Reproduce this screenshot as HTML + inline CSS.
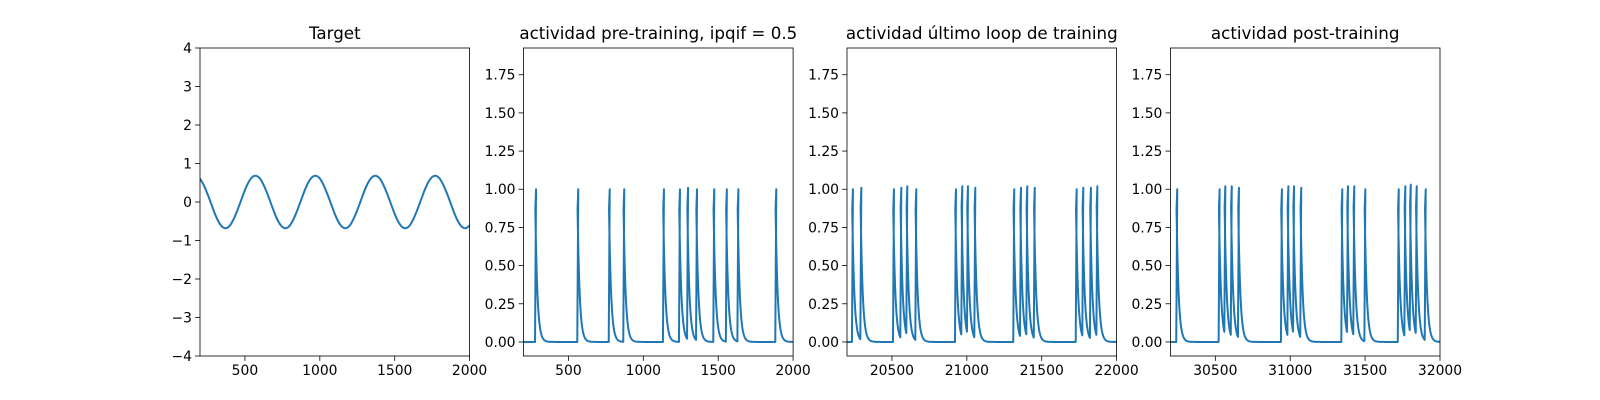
<!DOCTYPE html>
<html><head><meta charset="utf-8"><style>
html,body{margin:0;padding:0;background:#fff;}
svg{display:block;font-family:"DejaVu Sans","Liberation Sans",sans-serif;}
</style></head><body>
<svg id="fig" width="1600" height="400" viewBox="0 0 1600 400"></svg>
<script>
// ---- data ----
const targetX0 = 200, targetStep = 25;
const targetValues = [0.61,0.44,0.21,-0.05,-0.31,-0.52,-0.65,-0.68,-0.61,-0.44,-0.21,0.05,0.31,0.52,0.65,0.68,
0.61,0.44,0.21,-0.05,-0.31,-0.52,-0.65,-0.68,-0.61,-0.44,-0.21,0.05,0.31,0.52,0.65,0.68,
0.61,0.44,0.21,-0.05,-0.31,-0.52,-0.65,-0.68,-0.61,-0.44,-0.21,0.05,0.31,0.52,0.65,0.68,
0.61,0.44,0.21,-0.05,-0.31,-0.52,-0.65,-0.68,-0.61,-0.44,-0.21,0.05,0.31,0.52,0.65,0.68,
0.61,0.44,0.21,-0.05,-0.31,-0.52,-0.65,-0.68,-0.61];
const preSpikes = [277,559,769,866,1131,1238,1292,1352,1467,1551,1628,1881];
const prePeaks  = [1.0,1.0,1.0,1.0,1.0,1.0,1.01,1.0,1.0,1.0,1.0,1.0];
const lastSpikes = [20233,20289,20507,20556,20596,20656,20921,20963,21001,21050,21310,21355,21397,21447,21727,21771,21822,21865];
const lastPeaks  = [1.0,1.01,1.0,1.01,1.02,1.0,1.0,1.02,1.02,1.01,1.0,1.01,1.02,1.01,1.0,1.01,1.01,1.02];
const postSpikes = [30239,30522,30560,30603,30651,30938,30981,31019,31067,31341,31379,31421,31495,31718,31762,31798,31838,31898];
const postPeaks  = [1.0,1.0,1.02,1.02,1.01,1.0,1.02,1.02,1.01,1.0,1.02,1.02,1.0,1.0,1.02,1.03,1.02,1.0];
const targetYTicks = [-4,-3,-2,-1,0,1,2,3,4];
const spikeYTicks = ["0.00","0.25","0.50","0.75","1.00","1.25","1.50","1.75"];
const ticks1 = [500,1000,1500,2000];
const ticks3 = [20500,21000,21500,22000];
const ticks4 = [30500,31000,31500,32000];
const titles = ["Target","actividad pre-training, ipqif = 0.5","actividad último loop de training","actividad post-training"];

const NS="http://www.w3.org/2000/svg";
const svg=document.getElementById('fig');
function mk(tag,attrs,parent){const e=document.createElementNS(NS,tag);for(const k in attrs)e.setAttribute(k,attrs[k]);(parent||svg).appendChild(e);return e;}
const axTop=48, axBot=356, W=269.6, lefts=[200,523.5,847,1170.4];
const blue="#1f77b4";

function panel(i,xmin,xmax,ymin,ymax,xt,yt,ylabels,name){
  const L=lefts[i], R=L+W;
  const g=mk('g',{});
  
  
  const sx=v=>L+(v-xmin)/(xmax-xmin)*W;
  const sy=v=>axBot-(v-ymin)/(ymax-ymin)*(axBot-axTop);
  const cid='clip'+i;
  const cp=mk('clipPath',{id:cid},g); mk('rect',{x:L,y:axTop,width:W,height:axBot-axTop},cp);
  xt.forEach(v=>{const x=sx(v);
    const t=mk('line',{x1:x,x2:x,y1:axBot,y2:axBot+4.9,stroke:'#000','stroke-width':0.8},g);
    
    const tx=mk('text',{x:x,y:axBot+19,'font-size':13.9,'text-anchor':'middle',fill:'#000'},g);tx.textContent=v;
    });
  yt.forEach((v,k)=>{const y=sy(v);
    const t=mk('line',{x1:L-4.9,x2:L,y1:y,y2:y,stroke:'#000','stroke-width':0.8},g);
    
    const tx=mk('text',{x:L-8,y:y+5,'font-size':13.9,'text-anchor':'end',fill:'#000'},g);tx.textContent=ylabels[k];
    });
  const tt=mk('text',{x:L+W/2,y:axTop-9,'font-size':16.7,'text-anchor':'middle',fill:'#000'},g);tt.textContent=titles[i];
  
  return {g,sx,sy,cid,L,R};
}
function frame(p,name){
  const r=mk('rect',{x:p.L,y:axTop,width:W,height:axBot-axTop,fill:'none',stroke:'#000','stroke-width':0.8},p.g);
  
}

// Panel 1: target
{
  const p=panel(0,200,2000,-4,4,ticks1,targetYTicks,targetYTicks.map(v=>v<0?'\u2212'+(-v):''+v),'target');
  const pts=targetValues.map((v,k)=>[p.sx(targetX0+k*targetStep),p.sy(v)]);
  let d='M'+pts[0][0]+','+pts[0][1];
  for(let k=0;k<pts.length-1;k++){
    const p0=pts[Math.max(0,k-1)],p1=pts[k],p2=pts[k+1],p3=pts[Math.min(pts.length-1,k+2)];
    d+=' C'+(p1[0]+(p2[0]-p0[0])/6)+','+(p1[1]+(p2[1]-p0[1])/6)+' '+(p2[0]-(p3[0]-p1[0])/6)+','+(p2[1]-(p3[1]-p1[1])/6)+' '+p2[0]+','+p2[1];
  }
  const l=mk('path',{d:d,fill:'none',stroke:blue,'stroke-width':2,'clip-path':'url(#'+p.cid+')'},p.g);
  
  frame(p,'target');
}
function spikePanel(i,xmin,xmax,xt,times,peaks,name){
  const ymin=-0.092,ymax=1.925;
  const p=panel(i,xmin,xmax,ymin,ymax,xt,spikeYTicks.map(Number),spikeYTicks,name);
  const tau=14;
  let d='M'+p.sx(xmin)+','+p.sy(0);
  const sorted=times.map((t,k)=>[t,peaks[k]]);
  sorted.forEach((s,k)=>{
    const t0=s[0], next=k<sorted.length-1?sorted[k+1][0]:xmax;
    let prev=0;
    if(k>0){const pt=sorted[k-1];prev=pt[1]*Math.exp(-(t0-pt[0])/tau);}
    d+=' L'+p.sx(t0)+','+p.sy(prev)+' L'+(p.sx(t0)+1)+','+p.sy(s[1]);
    for(let t=t0+2;t<=next;t+=2){ d+=' L'+p.sx(t)+','+p.sy(s[1]*Math.exp(-(t-t0)/tau)); }
  });
  d+=' L'+p.sx(xmax)+','+p.sy(0);
  const l=mk('path',{d:d,fill:'none',stroke:blue,'stroke-width':2,'stroke-linejoin':'round','clip-path':'url(#'+p.cid+')'},p.g);
  
  frame(p,name);
}
spikePanel(1,200,2000,ticks1,preSpikes,prePeaks,'pre-training');
spikePanel(2,20200,22000,ticks3,lastSpikes,lastPeaks,'last-loop');
spikePanel(3,30200,32000,ticks4,postSpikes,postPeaks,'post-training');
</script>
</body></html>
